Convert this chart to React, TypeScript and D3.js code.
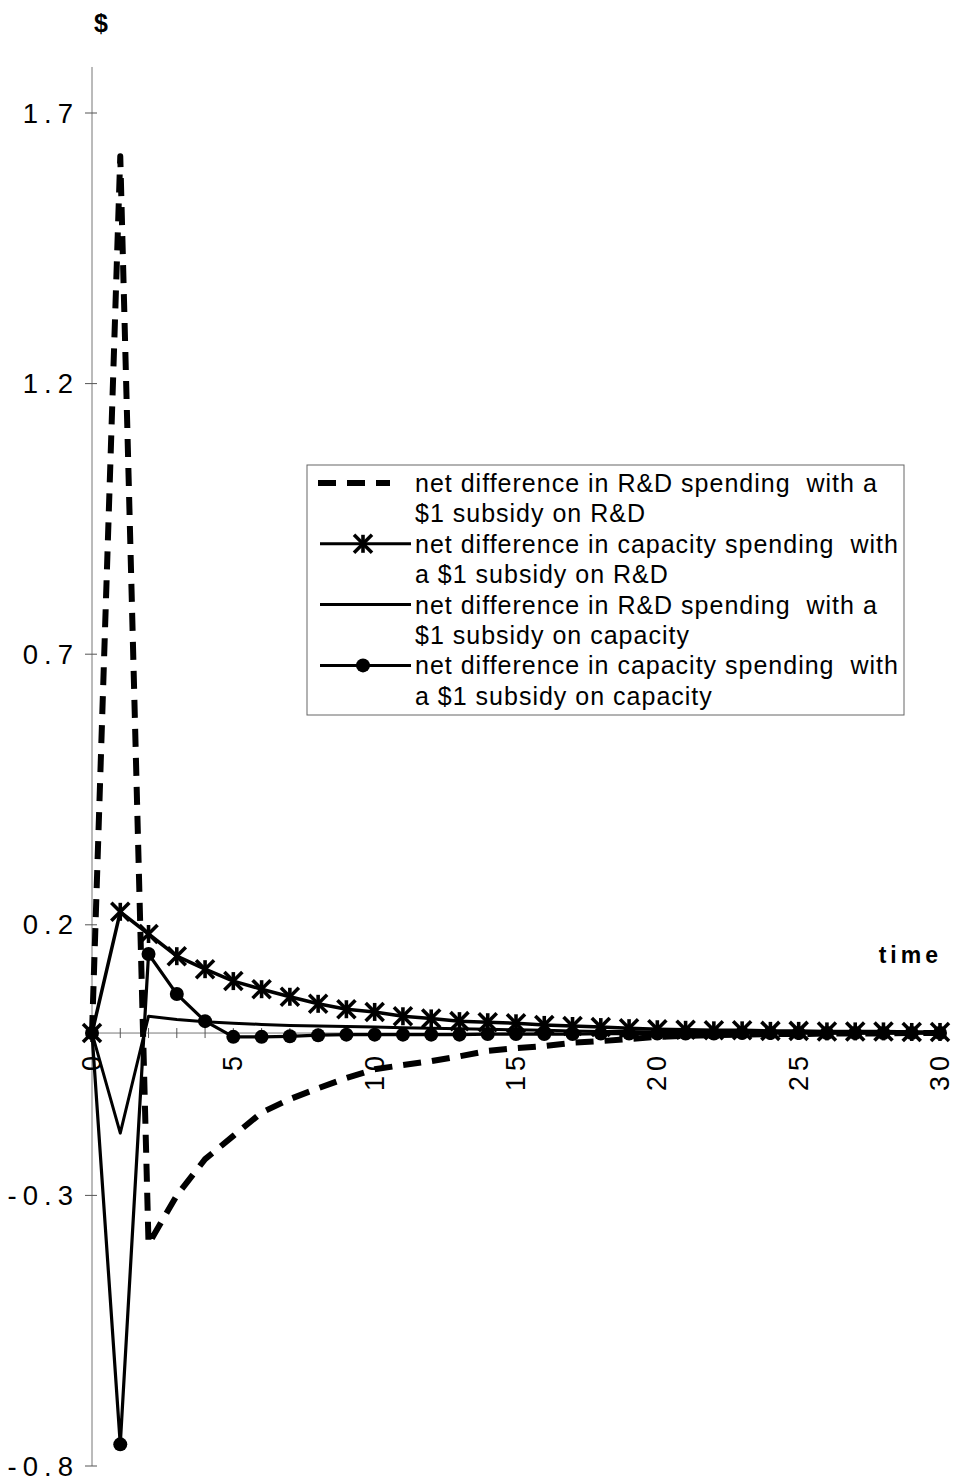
import React from "react";
import * as d3 from "d3";

const periods = [0, 1, 2, 3, 4, 5, 6, 7, 8, 9, 10, 11, 12, 13, 14, 15, 16, 17, 18, 19, 20, 21, 22, 23, 24, 25, 26, 27, 28, 29, 30];

const rdSpendingRdSubsidy = [0, 1.62, -0.39, -0.3, -0.233, -0.19, -0.147, -0.122, -0.102, -0.083, -0.067, -0.059, -0.052, -0.043, -0.033, -0.028, -0.024, -0.018, -0.015, -0.011, -0.007, -0.005, -0.004, -0.003, -0.002, -0.002, -0.001, -0.001, -0.001, 0, 0];

const capSpendingRdSubsidy = [0, 0.224, 0.183, 0.142, 0.118, 0.096, 0.081, 0.067, 0.054, 0.044, 0.039, 0.031, 0.027, 0.022, 0.02, 0.018, 0.015, 0.013, 0.011, 0.009, 0.007, 0.006, 0.005, 0.005, 0.004, 0.004, 0.003, 0.003, 0.003, 0.002, 0.002];

const rdSpendingCapSubsidy = [0, -0.185, 0.031, 0.025, 0.021, 0.018, 0.016, 0.014, 0.013, 0.012, 0.011, 0.01, 0.009, 0.008, 0.007, 0.006, 0.005, 0.004, 0.003, 0.003, 0.002, 0.002, 0.001, 0.001, 0.001, 0.001, 0, 0, 0, 0, 0];

const capSpendingCapSubsidy = [0, -0.76, 0.146, 0.072, 0.022, -0.007, -0.007, -0.006, -0.004, -0.003, -0.003, -0.003, -0.003, -0.003, -0.002, -0.002, -0.002, -0.002, -0.001, -0.001, -0.001, -0.001, -0.001, 0, 0, 0, 0, 0, 0, 0, 0];

const yTickValues = [1.7, 1.2, 0.7, 0.2, -0.3, -0.8];
const xTickLabels = [0, 5, 10, 15, 20, 25, 30];

const legendLabels = [
  ["net difference in R&D spending  with a", "$1 subsidy on R&D"],
  ["net difference in capacity spending  with", "a $1 subsidy on R&D"],
  ["net difference in R&D spending  with a", "$1 subsidy on capacity"],
  ["net difference in capacity spending  with", "a $1 subsidy on capacity"],
];

const FONT = "'Liberation Sans', Arial, Helvetica, sans-serif";

function Star({ cx, cy, r }: { cx: number; cy: number; r: number }) {
  return (
    <g stroke="#000" strokeWidth={3.6} strokeLinecap="butt">
      <line x1={cx - r} y1={cy - r} x2={cx + r} y2={cy + r} />
      <line x1={cx - r} y1={cy + r} x2={cx + r} y2={cy - r} />
      <line x1={cx} y1={cy - r} x2={cx} y2={cy + r} />
    </g>
  );
}

export default function App() {
  const W = 954;
  const H = 1481;
  const x = d3.scaleLinear().domain([0, 30]).range([92, 940]);
  const y = d3.scaleLinear().domain([-0.8, 1.7]).range([1466, 113]);
  const yAxisTop = 1.785;

  const line = (vals: number[]) =>
    d3
      .line<number>()
      .x((_, i) => x(periods[i]))
      .y((d) => y(d))(vals) || "";

  const lx = 307;
  const ly = 465;
  const rowH = 30.4;
  const textX = 415;
  const firstRow = 483;

  return (
    <svg
      width={W}
      height={H}
      style={{ position: "absolute", left: 0, top: 0, background: "#fff" }}
      fontFamily={FONT}
    >
      <rect x={0} y={0} width={W} height={H} fill="#fff" />
      {/* y axis */}
      <line x1={x(0)} x2={x(0)} y1={y(yAxisTop)} y2={y(-0.8)} stroke="#777" strokeWidth={1} />
      {yTickValues.map((v) => (
        <g key={v}>
          <line x1={x(0) - 7} x2={x(0) + 5} y1={y(v)} y2={y(v)} stroke="#555" strokeWidth={1} />
          <text
            x={79}
            y={y(v)}
            textAnchor="end"
            dominantBaseline="central"
            fontSize={27.5}
            letterSpacing={6}
            fill="#000"
          >
            {d3.format(".1f")(v).replace("−", "-")}
          </text>
        </g>
      ))}
      {/* x axis */}
      <line x1={x(0)} x2={x(30) + 6} y1={y(0)} y2={y(0)} stroke="#777" strokeWidth={1} />
      {periods.map((p) => (
        <line key={p} x1={x(p)} x2={x(p)} y1={y(0) - 5} y2={y(0) + 5} stroke="#555" strokeWidth={1} />
      ))}
      {xTickLabels.map((t) => (
        <text
          key={t}
          transform={`translate(${x(t)},${1051}) rotate(-90)`}
          textAnchor="end"
          dominantBaseline="central"
          fontSize={27}
          letterSpacing={5}
          fill="#000"
        >
          {t}
        </text>
      ))}
      <text x={101} y={32} textAnchor="middle" fontSize={25} fontWeight="bold">
        $
      </text>
      <text x={942} y={963} textAnchor="end" fontSize={23} fontWeight="bold" letterSpacing={4}>
        time
      </text>

      {/* series */}
      <path d={line(rdSpendingCapSubsidy)} fill="none" stroke="#000" strokeWidth={3} strokeLinejoin="round" />
      <path d={line(capSpendingCapSubsidy)} fill="none" stroke="#000" strokeWidth={3.2} strokeLinejoin="round" />
      {capSpendingCapSubsidy.map((v, i) => (
        <circle key={i} cx={x(periods[i])} cy={y(v)} r={7} fill="#000" />
      ))}
      <path d={line(capSpendingRdSubsidy)} fill="none" stroke="#000" strokeWidth={3.5} strokeLinejoin="round" />
      {capSpendingRdSubsidy.map((v, i) => (
        <Star key={i} cx={x(periods[i])} cy={y(v)} r={9} />
      ))}
      <path
        d={line(rdSpendingRdSubsidy)}
        fill="none"
        stroke="#000"
        strokeWidth={6}
        strokeDasharray="18 11"
        strokeLinejoin="round"
      />

      {/* legend */}
      <rect x={lx} y={ly} width={597} height={250} fill="#fff" stroke="#666" strokeWidth={1} />
      {legendLabels.map((lines, k) => {
        const cy1 = firstRow + rowH * 2 * k;
        return (
          <g key={k}>
            {lines.map((s, j) => (
              <text
                key={j}
                x={textX}
                y={cy1 + j * rowH}
                dominantBaseline="central"
                fontSize={25}
                letterSpacing={1}
                fill="#000"
                style={{ whiteSpace: "pre" }}
              >
                {s}
              </text>
            ))}
            {k === 0 && (
              <line x1={318} x2={390} y1={cy1} y2={cy1} stroke="#000" strokeWidth={6} strokeDasharray="18 11" />
            )}
            {k > 0 && <line x1={320} x2={411} y1={cy1} y2={cy1} stroke="#000" strokeWidth={3} />}
            {k === 1 && <Star cx={363} cy={cy1} r={9} />}
            {k === 3 && <circle cx={363} cy={cy1} r={7} fill="#000" />}
          </g>
        );
      })}
    </svg>
  );
}
